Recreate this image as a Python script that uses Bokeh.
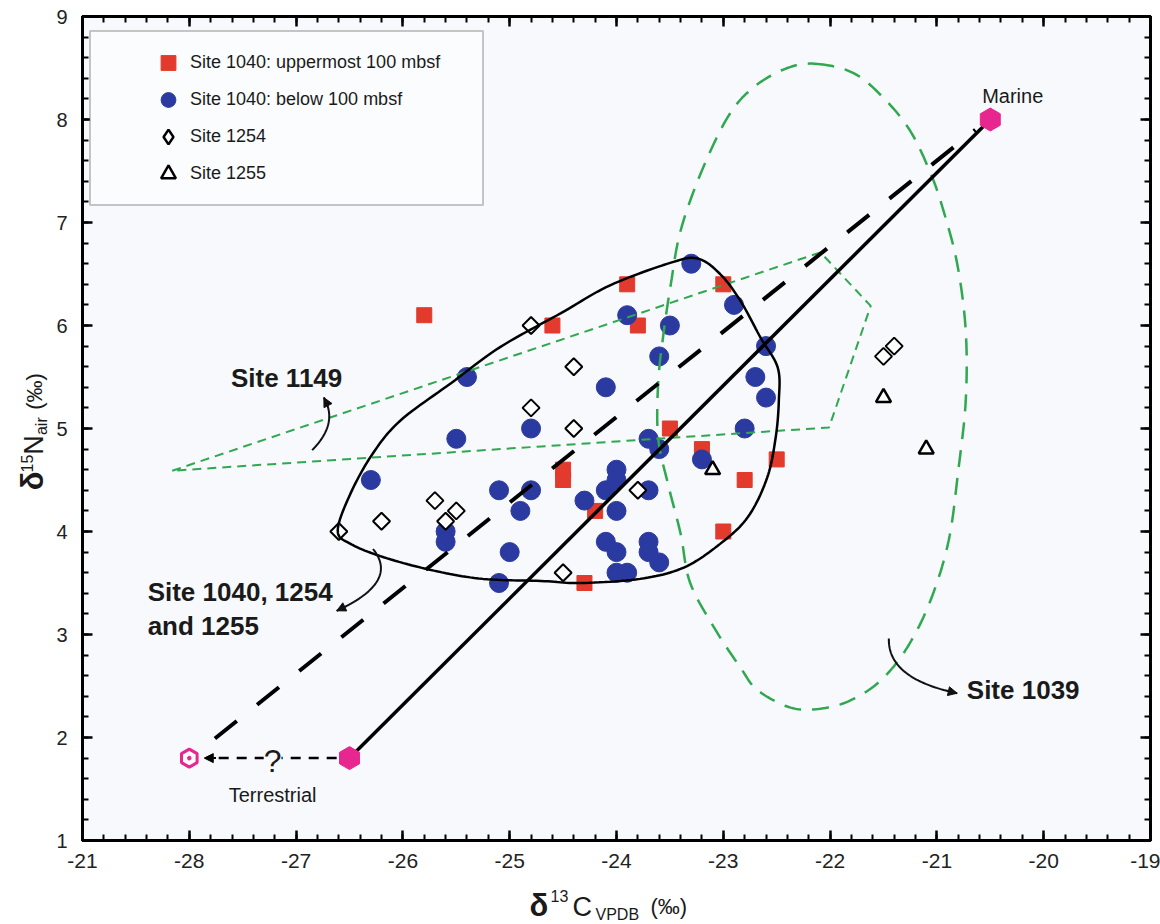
import numpy as np
from bokeh.plotting import figure
from bokeh.layouts import column, row
from bokeh.models import (FixedTicker, LinearAxis, Legend, LegendItem, Label,
                          Arrow, NormalHead, BoxAnnotation, Range1d)
from bokeh.core.properties import value
from bokeh.embed import file_html
from bokeh.resources import INLINE

# ---- measured values: d13C (VPDB, permil) and d15N (air, permil) ----
# Site 1040, uppermost 100 mbsf
up1040_c = [-25.8, -24.6, -23.9, -23.8, -23.0, -23.5, -24.5, -24.5, -23.2,
            -22.5, -22.8, -24.2, -23.0, -24.3]
up1040_n = [6.1, 6.0, 6.4, 6.0, 6.4, 5.0, 4.6, 4.5, 4.8,
            4.7, 4.5, 4.2, 4.0, 3.5]

# Site 1040, below 100 mbsf
lo1040_c = [-25.4, -25.5, -24.8, -26.3, -25.1, -24.8, -24.9, -25.6, -25.6, -25.0, -25.1,
            -23.3, -23.9, -23.5, -22.9, -23.6, -22.6, -24.1, -22.7, -22.6, -22.8,
            -23.7, -23.6, -23.2, -24.0, -24.0, -24.1, -24.3, -23.7, -24.0,
            -24.1, -24.0, -23.7, -23.7, -23.6, -24.0, -23.9]
lo1040_n = [5.5, 4.9, 5.0, 4.5, 4.4, 4.4, 4.2, 4.0, 3.9, 3.8, 3.5,
            6.6, 6.1, 6.0, 6.2, 5.7, 5.8, 5.4, 5.5, 5.3, 5.0,
            4.9, 4.8, 4.7, 4.6, 4.5, 4.4, 4.3, 4.4, 4.2,
            3.9, 3.8, 3.9, 3.8, 3.7, 3.6, 3.6]

# Site 1254
s1254_c = [-24.8, -24.4, -24.8, -24.4, -25.7, -25.5, -25.6, -26.2, -26.6, -24.5, -23.8, -21.5, -21.4]
s1254_n = [6.0, 5.6, 5.2, 5.0, 4.3, 4.2, 4.1, 4.1, 4.0, 3.6, 4.4, 5.7, 5.8]

# Site 1255
s1255_c = [-23.1, -21.5, -21.1]
s1255_n = [4.6, 5.3, 4.8]

# end members
marine_c, marine_n = [-20.5], [8.0]
terr_c, terr_n = [-26.5], [1.8]
terr2_c, terr2_n = [-28.0], [1.8]

# outline of the Site 1040 / 1254 / 1255 field
env_c = [-26.61, -26.49, -26.28, -26.02, -25.55, -25.09, -24.52, -24.06, -23.49, -23.24,
         -23.03, -22.84, -22.65, -22.49, -22.48, -22.51, -22.59, -22.77, -23.03, -23.37,
         -23.78, -24.34, -24.71, -25.25, -25.71, -26.18, -26.49]
env_n = [4.01, 4.37, 4.76, 5.08, 5.44, 5.79, 6.12, 6.39, 6.61, 6.65,
         6.50, 6.24, 5.88, 5.59, 5.27, 4.91, 4.52, 4.14, 3.88, 3.65,
         3.54, 3.50, 3.52, 3.54, 3.62, 3.75, 3.88]

# outline of the Site 1039 field
s1039_c = [-22.12, -21.78, -21.50, -21.25, -21.06, -20.94, -20.81, -20.73, -20.73, -20.80,
           -20.89, -21.06, -21.28, -21.53, -21.81, -22.09, -22.37, -22.68, -22.84, -23.07,
           -23.31, -23.40, -23.52, -23.61, -23.61, -23.56, -23.49, -23.40, -23.21, -22.96,
           -22.72, -22.40]
s1039_n = [8.54, 8.45, 8.21, 7.89, 7.48, 7.12, 6.60, 5.95, 5.27, 4.59,
           3.91, 3.33, 2.87, 2.55, 2.36, 2.28, 2.29, 2.46, 2.68, 3.04,
           3.50, 3.98, 4.47, 4.91, 5.44, 5.92, 6.41, 6.92, 7.48, 8.02,
           8.31, 8.50]

# outline of the Site 1149 field
s1149_c = [-28.16, -22.09, -21.62, -22.01, -28.16]
s1149_n = [4.59, 6.71, 6.19, 5.01, 4.59]

x_ticks = list(range(-29, -18))
x_tick_labels = ["-21", "-28", "-27", "-26", "-25", "-24", "-23", "-22", "-21", "-20", "-19"]
y_ticks = list(range(1, 10))
y_tick_labels = [str(v) for v in y_ticks]

RED = "#e23a2c"
BLUE = "#2b3aa0"
PINK = "#e8268f"
GREEN = "#2fa84f"
SANS = "Liberation Sans"
INK = "#1a1a1a"

# canvas split: title strips on the left and at the bottom
TOTAL_W, TOTAL_H = 1160, 924
FRAME_LEFT, FRAME_TOP, FRAME_BOTTOM = 82, 16, 840
LEFT_W = 50
BOTTOM_BORDER = 40
MAIN_W = TOTAL_W - LEFT_W
MAIN_H = FRAME_BOTTOM + BOTTOM_BORDER
BOTTOM_H = TOTAL_H - MAIN_H
DESCENT = 0.2  # text descent as a fraction of the font size


def smooth_closed(xs, ys, n=12):
    """Closed Catmull-Rom curve through the outline vertices."""
    pts = np.column_stack([xs, ys]).astype(float)
    m = len(pts)
    out = []
    for i in range(m):
        p0, p1, p2, p3 = pts[(i - 1) % m], pts[i], pts[(i + 1) % m], pts[(i + 2) % m]
        for t in np.linspace(0, 1, n, endpoint=False):
            t2, t3 = t * t, t * t * t
            out.append(0.5 * (2 * p1 + (-p0 + p2) * t + (2 * p0 - 5 * p1 + 4 * p2 - p3) * t2
                              + (-p0 + 3 * p1 - 3 * p2 + p3) * t3))
    out.append(out[0])
    out = np.array(out)
    return out[:, 0], out[:, 1]


def qbez(p0, c, p1, n=40):
    t = np.linspace(0, 1, n)[:, None]
    pts = (1 - t) ** 2 * np.array(p0) + 2 * (1 - t) * t * np.array(c) + t ** 2 * np.array(p1)
    return pts[:, 0], pts[:, 1]


p = figure(width=MAIN_W, height=MAIN_H, x_range=Range1d(-29, -19), y_range=Range1d(1, 9),
           output_backend="svg", toolbar_location=None,
           min_border_left=FRAME_LEFT - LEFT_W, min_border_right=10, min_border_top=FRAME_TOP,
           min_border_bottom=BOTTOM_BORDER,
           background_fill_color="#f7f9fc", border_fill_color="white",
           outline_line_color="black", outline_line_width=3)
p.grid.visible = False

xt = FixedTicker(ticks=x_ticks, minor_ticks=list(np.round(np.arange(-29, -18.99, 0.2), 2)))
yt = FixedTicker(ticks=y_ticks, minor_ticks=list(np.round(np.arange(1, 9.01, 0.2), 2)))


def style_axis(ax):
    ax.major_tick_in = 10
    ax.major_tick_out = 0
    ax.minor_tick_in = 6
    ax.minor_tick_out = 0
    ax.major_tick_line_width = 2.5
    ax.minor_tick_line_width = 2
    ax.axis_line_width = 3
    ax.major_tick_line_color = "black"
    ax.minor_tick_line_color = "black"
    ax.axis_label_standoff = 0


p.xaxis.ticker = xt
p.yaxis.ticker = yt
for ax in p.xaxis + p.yaxis:
    style_axis(ax)
p.xaxis.major_label_overrides = dict(zip(x_ticks, x_tick_labels))
p.yaxis.major_label_overrides = dict(zip(y_ticks, y_tick_labels))
p.xaxis.major_label_text_font = SANS
p.xaxis.major_label_text_font_size = "21px"
p.xaxis.major_label_standoff = 13
p.yaxis.major_label_text_font = SANS
p.yaxis.major_label_text_font_size = "20px"
p.yaxis.major_label_standoff = 15
for ax in p.xaxis + p.yaxis:
    ax.major_label_text_color = "#222222"

# tick marks only on the top and right edges of the box
top = LinearAxis(ticker=xt, major_label_text_color=None, major_label_text_font_size="1px",
                 major_label_standoff=0)
right = LinearAxis(ticker=yt, major_label_text_color=None, major_label_text_font_size="1px",
                   major_label_standoff=0)
style_axis(top)
style_axis(right)
p.add_layout(top, "above")
p.add_layout(right, "right")

# ---- data points ----
r_up = p.scatter(up1040_c, up1040_n, marker="square", size=15, fill_color=RED, line_color=RED)
r_lo = p.scatter(lo1040_c, lo1040_n, marker="circle", size=19, fill_color=BLUE, line_color=BLUE)
p.scatter(s1254_c, s1254_n, marker="square", angle=np.pi / 4, size=12,
          fill_color="white", line_color="black", line_width=2)
r_55 = p.scatter(s1255_c, s1255_n, marker="triangle", size=15,
                 fill_color="white", line_color="black", line_width=2.5)
# legend key for Site 1254: diamond symbol at an undefined position (never drawn in the plot)
r_54_key = p.scatter(x=[float("nan")], y=[float("nan")], marker="diamond", size=12,
                     fill_color="white", line_color="black", line_width=2.5)

# ---- field outlines ----
ex, ey = smooth_closed(s1039_c, s1039_n)
p.line(ex, ey, line_color=GREEN, line_width=2.5, line_dash="17 11")
p.line(s1149_c, s1149_n, line_color=GREEN, line_width=2, line_dash="9 6")
vx, vy = smooth_closed(env_c, env_n)
p.line(vx, vy, line_color="black", line_width=2.5)

# ---- mixing lines ----
p.line([terr_c[0], marine_c[0]], [terr_n[0], marine_n[0]], line_color="black", line_width=3.5)
p.line([-27.76, -20.64], [1.99, 7.9], line_color="black", line_width=4, line_dash="28 26")
p.line([-26.62, -27.8], [1.8, 1.8], line_color="black", line_width=2.5, line_dash="10 8")
p.add_layout(Arrow(end=NormalHead(size=9, fill_color="black", line_color="black"),
                   x_start=-27.75, y_start=1.8, x_end=-27.86, y_end=1.8,
                   line_color="black", line_width=2))

# ---- end members ----
p.scatter(marine_c, marine_n, marker="hex", angle=np.pi / 6, size=23, fill_color=PINK, line_color=PINK)
p.scatter(terr_c, terr_n, marker="hex", angle=np.pi / 6, size=23, fill_color=PINK, line_color=PINK)
p.scatter(terr2_c, terr2_n, marker="hex_dot", angle=np.pi / 6, size=18,
          fill_color="white", line_color=PINK, line_width=3)

# ---- curved pointers ----
for p0, c, p1 in [((-26.85, 4.79), (-26.60, 5.05), (-26.74, 5.30)),
                  ((-26.28, 3.83), (-26.03, 3.51), (-26.62, 3.23)),
                  ((-21.45, 2.96), (-21.46, 2.57), (-20.81, 2.43))]:
    bx, by = qbez(p0, c, p1)
    p.line(bx, by, line_color="#111111", line_width=2)
    p.add_layout(Arrow(end=NormalHead(size=9, fill_color="#111111", line_color="#111111"),
                       x_start=bx[-4], y_start=by[-4], x_end=bx[-1], y_end=by[-1],
                       line_color="#111111", line_width=2))


# ---- text in the plot ----
def label(x, y, text, size, bold=False, align="left", baseline="middle", bg=None):
    lab = Label(x=x, y=y, text=text, text_font=SANS, text_font_size=size,
                text_font_style="bold" if bold else "normal", text_color=INK,
                text_align=align, text_baseline=baseline)
    if bg is not None:
        lab.background_fill_color = bg
    p.add_layout(lab)


label(-27.61, 5.49, "Site 1149", "26px", bold=True)
label(-28.39, 3.41, "Site 1040, 1254", "26px", bold=True)
label(-28.39, 3.08, "and 1255", "26px", bold=True)
label(-20.72, 2.46, "Site 1039", "26px", bold=True)
label(-20.29, 8.23, "Marine", "20px", align="center")
label(-27.22, 1.44, "Terrestrial", "20px", align="center")
label(-27.22, 1.77, "?", "32px", align="center", bg="#f7f9fc")

# ---- legend ----
p.add_layout(BoxAnnotation(left=-28.93, right=-25.25, top=8.86, bottom=7.17,
                           fill_color="#fbfcfe", fill_alpha=1, line_color="#444444", line_width=2))
legend = Legend(items=[LegendItem(label="Site 1040: uppermost 100 mbsf", renderers=[r_up]),
                       LegendItem(label="Site 1040: below 100 mbsf", renderers=[r_lo]),
                       LegendItem(label="Site 1254", renderers=[r_54_key]),
                       LegendItem(label="Site 1255", renderers=[r_55])],
                location=(66, 648), padding=0, spacing=0, margin=0,
                glyph_width=40, glyph_height=37, label_height=37, label_standoff=2,
                label_text_font=SANS, label_text_font_size="18px", label_text_color=INK,
                background_fill_alpha=0, border_line_color=None)
p.add_layout(legend)


# ---- axis titles (with super/subscripts) in strips beside the plot ----
def strip(w, h):
    s = figure(width=w, height=h, x_range=Range1d(0, w), y_range=Range1d(0, h),
               output_backend="svg", toolbar_location=None, x_axis_type=None, y_axis_type=None,
               min_border_left=0, min_border_right=0, min_border_top=0, min_border_bottom=0,
               outline_line_color=None, background_fill_color="white",
               border_fill_color="white")
    s.grid.visible = False
    return s


TITLE_SIZE = [31, 16, 27, 16, 22]
TITLE_BOLD = [True, False, False, False, False]

# x title: left edge and baseline of each piece on the page
xs_title = strip(TOTAL_W, BOTTOM_H)
X_TEXT = ["δ", "13", "C", "VPDB", "(‰)"]
tx = [529, 550, 572, 595, 650]
ty = [916, 898, 916, 919, 914]
for x, yb, t, sz, b in zip(tx, ty, X_TEXT, TITLE_SIZE, TITLE_BOLD):
    xs_title.text(x=[x], y=[TOTAL_H - (yb + DESCENT * sz)], text=[t],
                  text_font=value(SANS), text_font_size=value(f"{sz}px"),
                  text_font_style="bold" if b else "normal", text_color=INK,
                  text_align="left", text_baseline="bottom")

# y title: rotated to read upwards; baseline x and starting y of each piece on the page
ys_title = strip(LEFT_W, MAIN_H)
Y_TEXT = ["δ", "15", "N", "air", "(‰)"]
lx = [43, 29, 43, 46, 42]
ly = [506, 487, 468, 447, 420]
for xb, y0, t, sz, b in zip(lx, ly, Y_TEXT, TITLE_SIZE, TITLE_BOLD):
    ys_title.text(x=[xb + DESCENT * sz], y=[MAIN_H - y0], text=[t], angle=np.pi / 2,
                  text_font=value(SANS), text_font_size=value(f"{sz}px"),
                  text_font_style="bold" if b else "normal", text_color=INK,
                  text_align="left", text_baseline="bottom")

layout = column(row(ys_title, p, spacing=0), xs_title, spacing=0)
open("out.html", "w").write(file_html(layout, INLINE))
